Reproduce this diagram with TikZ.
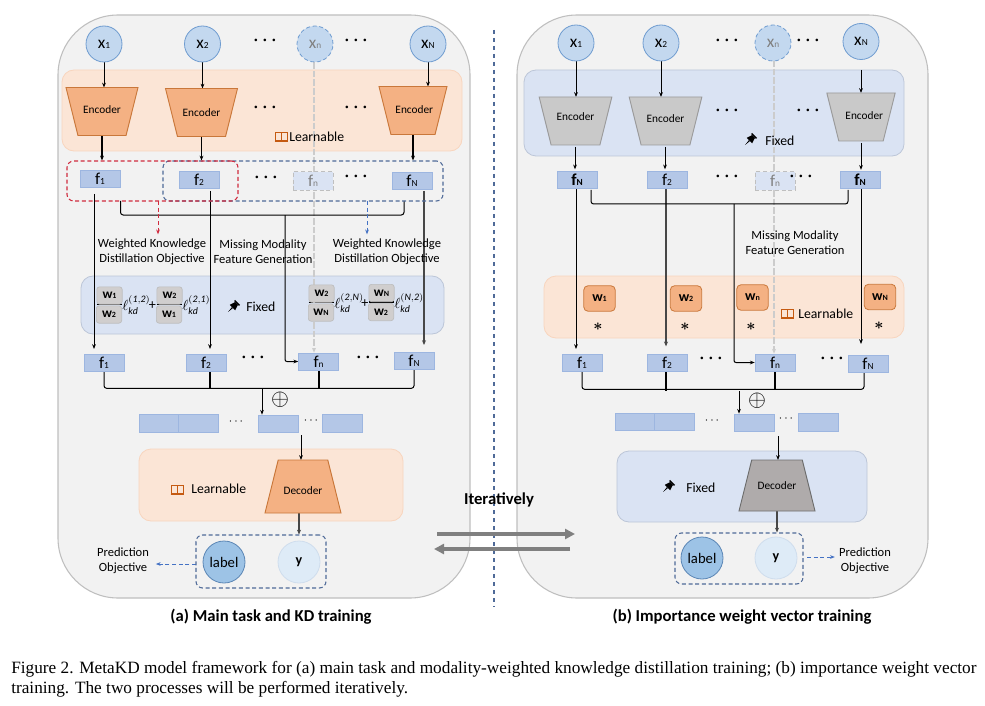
\documentclass[tikz,border=0pt]{standalone}
\usepackage{amsmath}
\usepackage{fontspec}
\setmainfont{Carlito}
\newfontfamily\capfont{Liberation Serif}
\usetikzlibrary{arrows.meta,shapes.geometric,calc,fit}
\pgfdeclarelayer{bg}
\pgfdeclarelayer{mid}
\pgfsetlayers{bg,mid,main}
\definecolor{panelF}{HTML}{F2F2F2}
\definecolor{panelD}{HTML}{BFBFBF}
\definecolor{orF}{HTML}{FBE5D6}
\definecolor{orD}{HTML}{F8D5BE}
\definecolor{blF}{HTML}{DAE3F3}
\definecolor{blD}{HTML}{BCC6D8}
\definecolor{encF}{HTML}{F4B183}
\definecolor{encD}{HTML}{C9773A}
\definecolor{grF}{HTML}{C9C9C9}
\definecolor{grD}{HTML}{9A9A9A}
\definecolor{decF}{HTML}{AFABAB}
\definecolor{decD}{HTML}{6E6E6E}
\definecolor{cirF}{HTML}{C3D8EF}
\definecolor{cirD}{HTML}{6F9CD0}
\definecolor{feaF}{HTML}{B4C7E7}
\definecolor{feaD}{HTML}{9DB6E0}
\definecolor{dashB}{HTML}{4F6A98}
\definecolor{dashR}{HTML}{D02B3E}
\definecolor{arrB}{HTML}{4472C4}
\definecolor{wgF}{HTML}{D0CECE}
\definecolor{wgD}{HTML}{BDBDBD}
\definecolor{labF}{HTML}{9DC3E6}
\definecolor{labD}{HTML}{5B86B5}
\definecolor{yF}{HTML}{DEEBF7}
\definecolor{yD}{HTML}{CFDDED}
\definecolor{bookC}{HTML}{C55A11}
\newcommand{\lbl}[2]{#1{\fontsize{7}{7}\selectfont #2}}
\newcommand{\wlbl}[2]{{\bfseries #1{\fontsize{6}{6}\selectfont #2}}}
\newcommand{\tdd}{\textbullet\hspace{4pt}\textbullet\hspace{4pt}\textbullet}
\tikzset{
  panel/.style={draw=panelD,fill=panelF,line width=0.8pt,rounded corners=45pt,inner sep=0pt},
  orband/.style={draw=orD,fill=orF,line width=0.6pt,rounded corners=9pt,inner sep=0pt},
  blband/.style={draw=blD,fill=blF,line width=0.6pt,rounded corners=9pt,inner sep=0pt},
  inp/.style={circle,draw=cirD,fill=cirF,line width=0.6pt,minimum size=27pt,inner sep=0pt,font=\fontsize{13}{13}\selectfont},
  inpm/.style={inp,densely dashed,text=gray},
  trap/.style={trapezium,trapezium stretches body=true,inner sep=0pt,outer sep=0pt,line width=0.7pt,font=\fontsize{8.5}{9}\selectfont,trapezium left angle=76,trapezium right angle=76},
  encH/.style={text height=21pt,text depth=15pt},
  encO/.style={trap,encH,shape border rotate=180,draw=encD,fill=encF},
  encG/.style={trap,encH,shape border rotate=180,draw=grD,fill=grF},
  decO/.style={trap,text height=23pt,text depth=16.75pt,draw=encD,fill=encF},
  decG/.style={trap,text height=22pt,text depth=16.25pt,draw=decD,fill=decF},
  fea/.style={rectangle,draw=feaD,fill=feaF,line width=0.5pt,minimum width=30pt,minimum height=12.75pt,inner sep=0pt,font=\fontsize{12.5}{12.5}\selectfont},
  feam/.style={fea,draw=gray!50,fill=blF,densely dashed,text=gray,minimum height=14pt},
  blank/.style={rectangle,draw=feaD,fill=feaF,line width=0.5pt,inner sep=0pt},
  bdash/.style={draw=dashB,densely dashed,line width=0.8pt,rounded corners=5pt,inner sep=0pt},
  rdash/.style={draw=dashR,densely dashed,line width=0.8pt,rounded corners=5pt,inner sep=0pt},
  txt/.style={inner sep=0pt,align=center,font=\fontsize{9.4}{11.25}\selectfont},
  tagt/.style={inner sep=0pt,font=\fontsize{10.3}{10}\selectfont},
  captxt/.style={inner sep=0pt,font=\fontsize{12.5}{13}\selectfont\bfseries},
  ddots/.style={inner sep=0pt,font=\fontsize{5.5}{6}\selectfont},
  tdots/.style={inner sep=0pt,font=\fontsize{9}{9}\selectfont},
  wbox/.style={rectangle,rounded corners=2pt,draw=wgD,fill=wgF,line width=0.5pt,minimum width=19pt,minimum height=13pt,inner sep=0pt,font=\fontsize{10}{10}\selectfont},
  wor/.style={rectangle,rounded corners=3pt,draw=encD,fill=encF,line width=0.6pt,minimum width=23.5pt,minimum height=19pt,inner sep=0pt,font=\fontsize{10.5}{10}\selectfont},
  ellt/.style={inner sep=0pt,font=\fontsize{10.6}{11}\selectfont},
  lab/.style={circle,draw=labD,fill=labF,line width=0.6pt,minimum size=31.5pt,inner sep=0pt,font=\fontsize{11}{11}\selectfont},
  yc/.style={circle,draw=yD,fill=yF,line width=0.6pt,minimum size=31.5pt,inner sep=0pt,font=\fontsize{10.5}{11}\selectfont\bfseries},
  arr/.style={-{Stealth[length=3.6pt,width=2.8pt]},line width=0.75pt,black},
  garr/.style={-{Stealth[length=3.6pt,width=3pt]},line width=1pt,black!72},
  lin/.style={line width=0.75pt,black,rounded corners=2pt},
  thk/.style={line width=1.5pt,black},
  gdash/.style={-{Stealth[length=3.6pt,width=3pt]},line width=0.9pt,black!20,dash pattern=on 5pt off 1.5pt},
  rarr/.style={-{Stealth[length=3.6pt,width=2.8pt]},line width=0.75pt,dashR,densely dashed},
  barr/.style={-{Stealth[length=3.6pt,width=2.8pt]},line width=0.75pt,arrB,densely dashed},
  bigarr/.style={-{Triangle[length=7.5pt,width=7.5pt]},line width=2.4pt,black!50},
  bookicon/.pic={
    \draw[bookC,fill=orF,line width=0.55pt] (-6,-4) rectangle (0,4);
    \draw[bookC,fill=orF,line width=0.55pt] (0,-4) rectangle (6,4);
    \draw[bookC,line width=0.7pt] (-6.5,5) -- (6.5,5);
  },
  pinicon/.pic={
    \fill[black] (-3.5,-6.5) rectangle (3.5,-5);
    \fill[black] (-2,-5) -- (2,-5) -- (3.8,0.8) -- (-3.8,0.8) -- cycle;
    \fill[black] (-0.7,0.8) -- (0.7,0.8) -- (0,7) -- cycle;
  }
}
\begin{document}
\begin{tikzpicture}[x=0.75pt,y=-0.75pt]
\useasboundingbox (0,0) rectangle (985,706);

% ---------- backgrounds
\begin{pgfonlayer}{bg}
\fill[white] (0,0) rectangle (985,706);
\node[panel,fit={(58,15)(470,598)}] (pa) {};
\node[panel,fit={(517,15)(928,598)}] (pb) {};
\node[orband,fit={(62,70)(462,151)}] (ba1) {};
\node[blband,fit={(81,276)(444,334)}] (ba2) {};
\node[orband,fit={(139,449)(403,521)}] (ba3) {};
\node[blband,fit={(524,70)(904,156)}] (bb1) {};
\node[orband,fit={(544,276)(904,338)}] (bb2) {};
\node[blband,fit={(617,451)(867,522)}] (bb3) {};
\end{pgfonlayer}

% ---------- panel (a) nodes
\node[inp] (ax1) at (104,44) {\lbl{x}{1}};
\node[inp] (ax2) at (202.5,44) {\lbl{x}{2}};
\node[inpm] (axn) at (315,44) {\lbl{x}{n}};
\node[inp] (axN) at (428,44) {\lbl{x}{N}};
\node[ddots] (ad1) at (265,41) {\tdd};
\node[ddots] (ad2) at (356,41) {\tdd};
\node[encO,minimum width=54pt] (ae1) at (102,111.5) {\raisebox{1.8pt}{Encoder}};
\node[encO,minimum width=54pt] (ae2) at (201.5,112.5) {Encoder};
\node[encO,minimum width=51pt] (aeN) at (413,110.5) {\hspace*{2pt}\raisebox{1pt}{Encoder}};
\node[ddots] (ad3) at (265,108) {\tdd};
\node[ddots] (ad4) at (356,108) {\tdd};
\pic at (281,136) {bookicon};
\node[tagt,anchor=west] (al1) at (289,137) {Learnable};

\node[fea] (af1) at (100,178.5) {\lbl{f}{1}};
\node[fea] (af2) at (199,179.5) {\lbl{f}{2}};
\node[feam] (afn) at (313,181) {\lbl{f}{n}};
\node[fea] (afN) at (412,180.5) {\lbl{f}{N}};
\node[ddots] (ad5) at (266,178) {\tdd};
\node[ddots] (ad6) at (356,177) {\tdd};
\node[bdash,fit={(163,161)(443,201)}] (abk) {};
\node[rdash,fit={(67,161)(238,201)}] (ark) {};

\node[txt] (awk1) at (152,251.5) {Weighted Knowledge\\Distillation Objective};
\node[txt] (amm) at (263,251.5) {Missing Modality\\Feature Generation};
\node[txt] (awk2) at (387,251.5) {Weighted Knowledge\\Distillation Objective};

\node[wbox] (aw11) at (109.5,295.5) {\wlbl{w}{1}};
\node[wbox] (aw12) at (109,314.5) {\wlbl{w}{2}};
\node[ellt,anchor=west] (al12) at (122,305) {$\ell^{\mathit{(1,2)}}_{\mathit{kd}}$};
\node[ellt] (ap1) at (152.5,306) {+};
\node[wbox] (aw21) at (169.5,295.5) {\wlbl{w}{2}};
\node[wbox] (aw22) at (169,314.5) {\wlbl{w}{1}};
\node[ellt,anchor=west] (al21) at (182,305) {$\ell^{\mathit{(2,1)}}_{\mathit{kd}}$};
\pic[rotate=-45] at (233,307) {pinicon};
\node[tagt,anchor=west] (afx1) at (246,307) {Fixed};
\node[wbox] (aw31) at (321.5,293.5) {\wlbl{w}{2}};
\node[wbox] (aw32) at (321,312.5) {\wlbl{w}{N}};
\node[ellt,anchor=west] (al2N) at (334,303) {$\ell^{\mathit{(2,N)}}_{\mathit{kd}}$};
\node[ellt] (ap2) at (365,304) {+};
\node[wbox] (aw41) at (381.5,293) {\wlbl{w}{N}};
\node[wbox] (aw42) at (381,312) {\wlbl{w}{2}};
\node[ellt,anchor=west] (alN2) at (394,303) {$\ell^{\mathit{(N,2)}}_{\mathit{kd}}$};

\node[fea] (ag1) at (104,362.5) {\lbl{f}{1}};
\node[fea] (ag2) at (206,362.5) {\lbl{f}{2}};
\node[fea] (agn) at (318.5,361.5) {\lbl{f}{n}};
\node[fea] (agN) at (414,360.5) {\lbl{f}{N}};
\node[ddots] (ad7) at (253,358) {\tdd};
\node[ddots] (ad8) at (368,358) {\tdd};
\node[ellt] (aox) at (280,400) {\fontsize{17}{17}\selectfont$\oplus$};

\node[blank,fit={(139,414)(178,432)}] (ar1) {};
\node[blank,fit={(178,414)(218,432)}] (ar2) {};
\node[tdots] (ard1) at (237,422) {$\cdots$};
\node[blank,fit={(258,415)(298,432)}] (ar3) {};
\node[tdots] (ard2) at (312,421) {$\cdots$};
\node[blank,fit={(322,414)(362,432)}] (ar4) {};

\node[decO,minimum width=57pt] (adc) at (303,486.5) {\raisebox{-2.5pt}{Decoder}};
\pic at (177,489) {bookicon};
\node[tagt,anchor=west] (al2) at (191,489) {Learnable};
\node[bdash,fit={(196,535)(326,588)}] (apr) {};
\node[lab] (alab) at (224,562) {label};
\node[yc] (ay) at (299,562) {y};
\node[txt] (apo) at (123,560.5) {Prediction\\Objective};
\node[captxt] (capa) at (271,617) {(a) Main task and KD training};

% ---------- panel (b) nodes
\node[inp] (bx1) at (576,43) {\lbl{x}{1}};
\node[inp] (bx2) at (661,43) {\lbl{x}{2}};
\node[inpm] (bxn) at (773,43) {\lbl{x}{n}};
\node[inp] (bxN) at (861,41.5) {\lbl{x}{N}};
\node[ddots] (bd1) at (727,41) {\tdd};
\node[ddots] (bd2) at (808,41) {\tdd};
\node[encG,minimum width=54.5pt] (be1) at (575.5,121) {\raisebox{3pt}{Encoder}};
\node[encG,minimum width=54.5pt] (be2) at (665.5,121) {\raisebox{1.5pt}{Encoder}};
\node[encG,minimum width=51pt] (beN) at (861,117) {\hspace*{5pt}\raisebox{1pt}{Encoder}};
\node[ddots] (bd3) at (727,111) {\tdd};
\node[ddots] (bd4) at (808,111) {\tdd};
\pic[rotate=-45] at (750,140) {pinicon};
\node[tagt,anchor=west] (bfx1) at (765,140.5) {Fixed};

\node[fea] (bf1) at (577,179.5) {\bfseries\lbl{f}{N}};
\node[fea] (bf2) at (667,179.5) {\lbl{f}{2}};
\node[feam] (bfn) at (775,181) {\lbl{f}{n}};
\node[fea] (bfN) at (860,180) {\bfseries\lbl{f}{N}};
\node[ddots] (bd5) at (727,177) {\tdd};
\node[ddots] (bd6) at (801,177) {\tdd};
\node[txt] (bmm) at (795,242.5) {Missing Modality\\Feature Generation};

\node[wor] (bw1) at (599.5,298.5) {\wlbl{w}{1}};
\node[wor] (bw2) at (686,298.5) {\wlbl{w}{2}};
\node[wor] (bwn) at (752.5,297.5) {\wlbl{w}{n}};
\node[wor] (bwN) at (880,297) {\wlbl{w}{N}};
\node[ellt] (bs1) at (598,327) {\fontsize{12.5}{12.5}\selectfont$\boldsymbol{*}$};
\node[ellt] (bs2) at (685,327) {\fontsize{12.5}{12.5}\selectfont$\boldsymbol{*}$};
\node[ellt] (bs3) at (751,327) {\fontsize{12.5}{12.5}\selectfont$\boldsymbol{*}$};
\node[ellt] (bs4) at (879,326) {\fontsize{12.5}{12.5}\selectfont$\boldsymbol{*}$};
\pic at (787,313) {bookicon};
\node[tagt,anchor=west] (bl1) at (798,314) {Learnable};

\node[fea] (bg1) at (582,362.5) {\lbl{f}{1}};
\node[fea] (bg2) at (667,362.5) {\lbl{f}{2}};
\node[fea] (bgn) at (775,362.5) {\lbl{f}{n}};
\node[fea] (bgN) at (868,363.5) {\lbl{f}{N}};
\node[ddots] (bd7) at (711,359) {\tdd};
\node[ddots] (bd8) at (832,359) {\tdd};
\node[ellt] (box) at (757,401) {\fontsize{17}{17}\selectfont$\oplus$};

\node[blank,fit={(615,413)(654,430)}] (br1) {};
\node[blank,fit={(654,413)(694,430)}] (br2) {};
\node[tdots] (brd1) at (713,421) {$\cdots$};
\node[blank,fit={(734,414)(774,431)}] (br3) {};
\node[tdots] (brd2) at (787,419) {$\cdots$};
\node[blank,fit={(798,413)(838,431)}] (br4) {};

\node[decG,minimum width=57pt] (bdc) at (777,485.5) {Decoder};
\pic[rotate=-45] at (668,487) {pinicon};
\node[tagt,anchor=west] (bfx2) at (686,488) {Fixed};
\node[bdash,fit={(675,533)(803,584)}] (bpr) {};
\node[lab] (blab) at (702,558) {label};
\node[yc] (by) at (776,558) {y};
\node[txt] (bpo) at (865,560.5) {Prediction\\Objective};
\node[captxt] (capb) at (742,617) {(b) Importance weight vector training};

\node[captxt] (iter) at (499,500) {Iteratively};
\node[inner sep=0pt,anchor=west,align=left,font=\capfont\fontsize{12.95}{15}\selectfont] (figcap) at (11,679) {Figure 2. MetaKD model framework for (a) main task and modality-weighted knowledge distillation training; (b) importance weight vector\\training. The two processes will be performed iteratively.};

% ---------- connectors
\begin{pgfonlayer}{mid}
% fraction bars
\draw[line width=0.8pt] (aw11.west) ++(0,9) -- ++(25,0);
\draw[line width=0.8pt] (aw21.west) ++(0,9) -- ++(25,0);
\draw[line width=0.8pt] (aw31.west) ++(0,9) -- ++(25,0);
\draw[line width=0.8pt] (aw41.west) ++(0,9) -- ++(25,0);
% panel (a)
\draw[arr] (ax1.south) -- (ax1.south |- ae1.north);
\draw[arr] (ax2.south) -- (ax2.south |- ae2.north);
\draw[arr] (axN.south) -- (axN.south |- aeN.north);
\coordinate (aen) at (314,62);
\draw[gdash] (aen) -- (aen |- agn.north);
\draw[arr,line width=0.9pt] (ae1.south) -- (ae1.south |- ark.north);
\draw[arr] (ae2.south) -- (ae2.south |- ark.north);
\draw[arr,line width=0.9pt] (aeN.south) -- (aeN.south |- abk.north);
\coordinate (as1) at (94,194);
\coordinate (as2) at (210,191);
\coordinate (asN) at (424,191);
\draw[arr,shorten >=3.5pt] (as1) -- (as1 |- ag1.north);
\draw[arr,shorten >=3.5pt] (as2) -- (as2 |- ag2.north);
\draw[garr,shorten >=5pt] (asN) -- (asN |- agN.north);
\coordinate (abL) at (120.5,201);
\coordinate (abR) at (404,201);
\coordinate (abM) at (285,215);
\draw[lin] (abL) -- ++(0,14) -| (abR);
\draw[arr,rounded corners=1.5pt] (abM) |- (agn.west);
\coordinate (ara) at (158,201);
\coordinate (aba) at (367,201);
\draw[rarr,shorten >=3pt] (ara) -- (ara |- awk1.north);
\draw[barr,shorten >=3pt] (aba) -- (aba |- awk2.north);
\draw[lin] (ag1.south) -- ++(0,17) -| (agN.south);
\coordinate (agm) at (262,389);
\draw[thk] (ag2.south -| as2) -- (as2 |- agm);
\draw[thk] (agn.south) -- (agn.south |- agm);
\draw[arr] (agm) -- (agm |- ar3.north);
\coordinate (ard) at (301,435);
\draw[arr] (ard) -- (ard |- adc.north);
\draw[garr] (adc.south -| ay.north) -- (ay.north |- apr.north);
\coordinate (apa) at (196,564);
\draw[barr,shorten >=5pt] (apa) -- (apo.east |- apa);
% panel (b)
\draw[arr] (bx1.south) -- (bx1.south |- be1.north);
\draw[arr] (bx2.south) -- (bx2.south |- be2.north);
\coordinate (bxs) at (861,70);
\draw[arr] (bxs) -- (bxs |- beN.north);
\coordinate (ben) at (774,60);
\draw[gdash] (ben) -- (ben |- bgn.north);
\coordinate (bo1) at (575,147);
\coordinate (bo2) at (665,147);
\coordinate (boN) at (861,143);
\draw[arr,shorten >=1pt] (bo1) -- (bo1 |- bf1.north);
\draw[arr,shorten >=1pt] (bo2) -- (bo2 |- bf2.north);
\draw[arr,shorten >=1pt] (boN) -- (boN |- bfN.north);
\coordinate (bs1c) at (576,188);
\coordinate (bs2c) at (666,188);
\coordinate (bsNc) at (861,188);
\draw[arr,shorten >=3.5pt] (bs1c) -- (bs1c |- bg1.north);
\draw[garr,shorten >=5.5pt] (bs2c) -- (bs2c |- bg2.north);
\draw[arr,shorten >=8pt] (bsNc) -- (bsNc |- bgN.north);
\coordinate (bbL) at (591,190);
\coordinate (bbR) at (848,190);
\coordinate (bbM) at (734,204);
\draw[lin] (bbL) -- ++(0,14) -| (bbR);
\draw[arr,rounded corners=1.5pt] (bbM) |- (bgn.west);
\coordinate (bgR) at (864,372);
\draw[lin] (bg1.south) -- ++(0,18) -| (bgR);
\coordinate (bgm) at (739,391);
\draw[thk] (bg2.south -| bs2c) -- (bs2c |- bgm);
\draw[thk] (bgn.south) -- ++(0,18);
\draw[arr] (bgm) -- (bgm |- br3.north);
\coordinate (brd) at (778,436);
\draw[arr] (brd) -- (brd |- bdc.north);
\draw[garr] (bdc.south) -- (bdc.south |- bpr.north);
\coordinate (bpa) at (807,557);
\draw[barr,shorten >=3pt] (bpa) -- (bpo.west |- bpa);
% divider and iteration arrows
\coordinate (dvT) at (494,30);
\coordinate (dvB) at (494,607);
\draw[dashB,dashed,line width=1.1pt] (dvT) -- (dvB);
\coordinate (i1a) at (437,534);
\coordinate (i1b) at (575,534);
\coordinate (i2a) at (570,549);
\coordinate (i2b) at (434,549);
\draw[bigarr] (i1a) -- (i1b);
\draw[bigarr] (i2a) -- (i2b);
\end{pgfonlayer}
\end{tikzpicture}
\end{document}
